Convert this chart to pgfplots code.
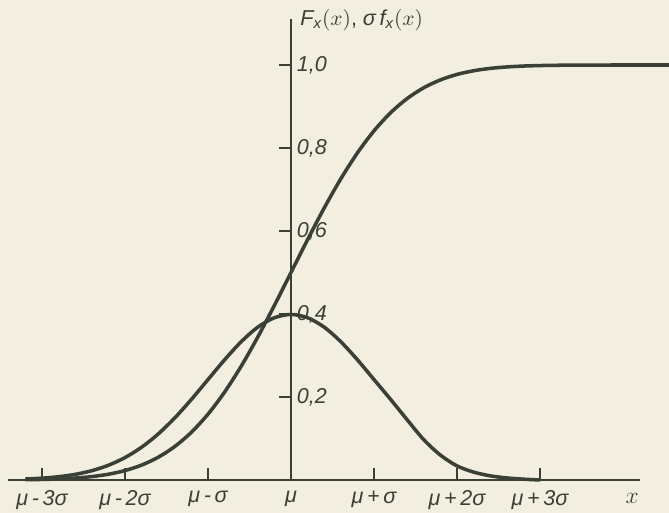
\documentclass[border=0pt]{standalone}
\usepackage{fontspec}
\setmainfont{Liberation Sans}
\usepackage{pgfplots}
\pgfplotsset{compat=1.18}
\usetikzlibrary{backgrounds}
\definecolor{paper}{HTML}{F2EEE0}
\definecolor{ink}{HTML}{3B4036}

\begin{document}
\begin{tikzpicture}
\begin{axis}[
  x=42.36pt, y=211.8pt,
  xmin=-3.41, xmax=4.2, ymin=0, ymax=1.11,
  axis lines=middle,
  axis line style={ink, line width=1.1pt, -},
  clip=false,
  hide obscured x ticks=false,
  xtick={-3,-2,-1,0,1,2,3},
  xticklabels={{μ\,-\,3σ},{μ\,-\,2σ},{μ\,-\,σ},{μ},{μ\,+\,σ},{μ\,+\,2σ},{μ\,+\,3σ}},
  ytick={0.2,0.4,0.6,0.8,1.0},
  yticklabels={{0,2},{0,4},{0,6},{0,8},{1,0}},
  tick align=center,
  major tick length=6pt,
  tick style={ink, line width=0.8pt},
  xtick style={yshift=3pt},
  ytick style={xshift=-3pt},
  xticklabel style={font=\fontsize{11}{12}\selectfont\itshape, text=ink, yshift=1pt},
  yticklabel style={font=\fontsize{11}{12}\selectfont\itshape, text=ink, anchor=west, xshift=2.5pt},
]
\coordinate (bl) at (axis cs:-3.506,-0.0795);
\coordinate (tr) at (axis cs:4.554,1.1566);

% cumulative distribution F_x(x)
\addplot[ink, line width=1.8pt, smooth] coordinates {
(-3.2,0.00069) (-3.0,0.00135) (-2.8,0.00256) (-2.6,0.00466) (-2.4,0.00820)
(-2.2,0.01390) (-2.0,0.02275) (-1.8,0.03593) (-1.6,0.05480) (-1.4,0.08076)
(-1.2,0.11507) (-1.0,0.15866) (-0.8,0.21186) (-0.6,0.27425) (-0.4,0.34458)
(-0.2,0.42074) (0,0.5) (0.2,0.57926) (0.4,0.65542) (0.6,0.72575)
(0.8,0.78814) (1.0,0.84134) (1.2,0.88493) (1.4,0.91924) (1.6,0.94520)
(1.8,0.96407) (2.0,0.97725) (2.2,0.98610) (2.4,0.99180) (2.6,0.99534)
(2.8,0.99744) (3.0,0.99865) (3.2,0.99931) (3.4,0.99966) (3.6,0.99984)
(3.8,0.99993) (4.0,0.99997) (4.2,0.99999) (4.4,1.0) (4.554,1.0)
};

% sigma times density
\addplot[ink, line width=1.8pt, smooth] coordinates {
(-3.2,0.0024) (-3.0,0.0044) (-2.8,0.0079) (-2.6,0.0136) (-2.4,0.0224)
(-2.2,0.0355) (-2.0,0.0540) (-1.8,0.0790) (-1.6,0.1109) (-1.4,0.1497)
(-1.2,0.1942) (-1.0,0.2420) (-0.8,0.2897) (-0.6,0.3332) (-0.4,0.3683)
(-0.2,0.3910) (0,0.3989) (0.2,0.3910) (0.4,0.3683) (0.6,0.3332)
(0.8,0.2897) (1.0,0.2420) (1.2,0.1942) (1.4,0.145) (1.6,0.097)
(1.8,0.060) (2.0,0.034) (2.2,0.019) (2.4,0.010) (2.6,0.005)
(2.8,0.002) (3.0,0.0)
};

\node[anchor=center, text=ink, font=\fontsize{12}{13}\selectfont] at (axis cs:4.11,-0.045) {$x$};
\node[anchor=west, text=ink, font=\fontsize{11}{12}\selectfont, inner sep=0pt] at (axis cs:0.108,1.108)
  {\textit{F\textsubscript{x}}$(x)$, \textit{σ\,f\textsubscript{x}}$(x)$};
\end{axis}
\begin{scope}[on background layer]
\fill[paper] (bl) rectangle (tr);
\end{scope}
\pgfresetboundingbox
\useasboundingbox (bl) rectangle (tr);
\end{tikzpicture}
\end{document}
